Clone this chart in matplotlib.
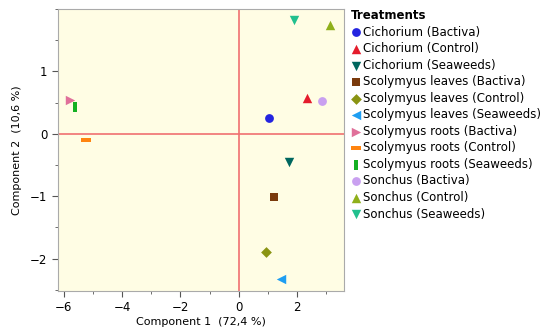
import matplotlib.pyplot as plt
from matplotlib.ticker import MultipleLocator, FixedLocator

# PCA scores
labels = ["Cichorium (Bactiva)", "Cichorium (Control)", "Cichorium (Seaweeds)",
          "Scolymyus leaves (Bactiva)", "Scolymyus leaves (Control)", "Scolymyus leaves (Seaweeds)",
          "Scolymyus roots (Bactiva)", "Scolymyus roots (Control)", "Scolymyus roots (Seaweeds)",
          "Sonchus (Bactiva)", "Sonchus (Control)", "Sonchus (Seaweeds)"]
comp1 = [1.03, 2.35, 1.72, 1.20, 0.93, 1.45, -5.78, -5.23, -5.62, 2.85, 3.13, 1.89]
comp2 = [0.26, 0.57, -0.45, -1.02, -1.89, -2.32, 0.54, -0.10, 0.43, 0.52, 1.75, 1.82]

hbar = [(-1, -0.33), (1, -0.33), (1, 0.33), (-1, 0.33), (-1, -0.33)]
vbar = [(-0.33, -1), (0.33, -1), (0.33, 1), (-0.33, 1), (-0.33, -1)]
markers = ["o", "^", "v", "s", "D", "<", ">", hbar, vbar, "o", "^", "v"]
sizes = [40, 46, 46, 32, 30, 46, 46, 60, 60, 40, 46, 46]
colors = ["#2424e0", "#e41c2c", "#00675f", "#7a3a0c", "#8a9412", "#1e9ef2",
          "#e0709a", "#ff8410", "#14b022", "#c9a0f0", "#8fb01a", "#22c08e"]

fig = plt.figure(figsize=(5.5, 3.33), dpi=100)
ax = fig.add_axes([0.105, 0.126, 0.52, 0.847])
ax.set_facecolor("#fffde4")

ax.axhline(0, color="#f07070", lw=1.2, zorder=1)
ax.axvline(0, color="#f07070", lw=1.2, zorder=1)

for i in range(len(labels)):
    ax.scatter(comp1[i], comp2[i], marker=markers[i], s=sizes[i], color=colors[i],
               linewidths=0, label=labels[i], zorder=3)

ax.set_xlim(-6.2, 3.6)
ax.set_ylim(-2.52, 2.0)
ax.xaxis.set_major_locator(MultipleLocator(2))
ax.xaxis.set_minor_locator(MultipleLocator(1))
ax.yaxis.set_major_locator(FixedLocator([-2, -1, 0, 1]))
ax.yaxis.set_minor_locator(FixedLocator([-2.5, -1.5, -0.5, 0.5, 1.5, 2.0]))
ax.tick_params(which="both", direction="out", color="#555555", labelsize=8.5)
ax.tick_params(which="major", length=4)
ax.tick_params(which="minor", length=2)
for s in ax.spines.values():
    s.set_color("#aaaaaa")

ax.set_xlabel("Component 1  (72,4 %)", fontsize=8, labelpad=2)
ax.set_ylabel("Component 2  (10,6 %)", fontsize=8, labelpad=6)

leg = ax.legend(loc="upper left", bbox_to_anchor=(1.0, 1.025), frameon=False,
                title="Treatments", fontsize=8.5, handletextpad=0.2, handlelength=0.8,
                labelspacing=0.3, borderaxespad=0.2, alignment="left")
leg.get_title().set_fontweight("bold")
leg.get_title().set_fontsize(8.5)

fig.savefig("out.png", dpi=100)
